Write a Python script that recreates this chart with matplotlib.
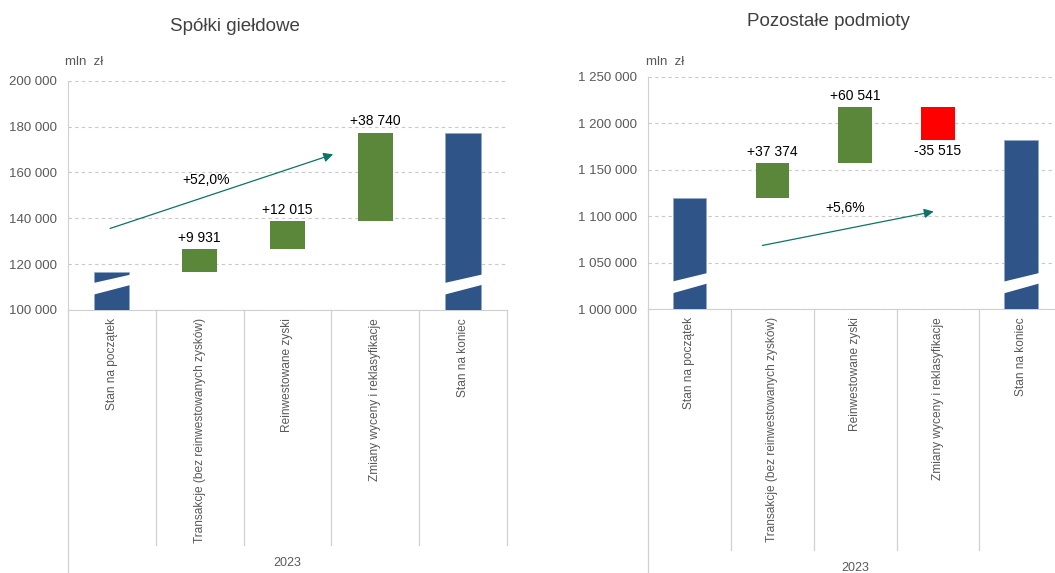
import matplotlib.pyplot as plt
import matplotlib.transforms as mtransforms
from matplotlib.patches import Polygon
from matplotlib.ticker import FuncFormatter, MultipleLocator

plt.rcParams['font.family'] = ['Liberation Sans', 'DejaVu Sans']

categories = ['Stan na początek', 'Transakcje (bez reinwestowanych zysków)',
              'Reinwestowane zyski', 'Zmiany wyceny i reklasyfikacje', 'Stan na koniec']
year = '2023'

gield_start = 116700
gield_changes = [9931, 12015, 38740]
gield_pct = '+52,0%'

poz_start = 1120000
poz_changes = [37374, 60541, -35515]
poz_pct = '+5,6%'

BLUE = '#2F5588'
GREEN = '#5B873A'
RED = '#FF0000'
TEAL = '#0B7468'
GRAY = '#595959'
LINE = '#D0D0D0'


def fmt(v, pos=None):
    return f'{int(v):,}'.replace(',', ' ')


def waterfall(ax, start, changes, pct, ylim, step, arrow_from, arrow_to, pct_xy, sep_len, outer_len, year_y):
    w = 0.4
    x = list(range(len(categories)))
    cum = [start]
    for c in changes:
        cum.append(cum[-1] + c)
    end = cum[-1]

    ax.bar(x[0], start, width=w, color=BLUE, edgecolor='#8FA8C8', linewidth=0.5, zorder=3)
    ax.bar(x[-1], end, width=w, color=BLUE, edgecolor='#8FA8C8', linewidth=0.5, zorder=3)
    for i, c in enumerate(changes):
        col = GREEN if c > 0 else RED
        ax.bar(x[i + 1], c, bottom=cum[i], width=w, color=col, zorder=3)
        lab = f'{c:+,}'.replace(',', ' ')
        if c > 0:
            ax.annotate(lab, (x[i + 1], cum[i + 1]), xytext=(0, 3), textcoords='offset points',
                        ha='center', va='bottom', fontsize=10)
        else:
            ax.annotate(lab, (x[i + 1], cum[i + 1]), xytext=(0, -3), textcoords='offset points',
                        ha='center', va='top', fontsize=10)

    # break marks on the total bars
    tr = mtransforms.blended_transform_factory(ax.transData, ax.transAxes)
    for xi in (x[0], x[-1]):
        poly = Polygon([(xi - w / 2 - 0.02, 0.066), (xi + w / 2 + 0.02, 0.11),
                        (xi + w / 2 + 0.02, 0.155), (xi - w / 2 - 0.02, 0.117)],
                       closed=True, transform=tr, facecolor='white', edgecolor='none', zorder=4)
        ax.add_patch(poly)

    ax.annotate('', xy=arrow_to, xytext=arrow_from,
                arrowprops=dict(arrowstyle='-|>', color=TEAL, lw=0.9, mutation_scale=14), zorder=5)
    ax.text(pct_xy[0], pct_xy[1], pct, ha='center', va='center', fontsize=10)

    ax.set_xlim(-0.5, len(categories) - 0.5)
    ax.set_ylim(*ylim)
    ax.yaxis.set_major_locator(MultipleLocator(step))
    ax.yaxis.set_major_formatter(FuncFormatter(fmt))
    ax.grid(axis='y', color='#C8C8C8', linestyle=(0, (3, 3)), linewidth=0.8, zorder=0)
    ax.set_axisbelow(True)
    for s in ('top', 'right'):
        ax.spines[s].set_visible(False)
    for s in ('left', 'bottom'):
        ax.spines[s].set_color(LINE)
    ax.tick_params(axis='y', length=0, labelsize=9.5, labelcolor=GRAY, pad=8)
    ax.set_xticks(x)
    ax.set_xticklabels(categories, rotation=90, va='top', fontsize=8.6, color=GRAY)
    ax.tick_params(axis='x', length=0, pad=6)

    n = len(categories)
    for i in range(n + 1):
        ln = outer_len if i == 0 else sep_len
        ax.plot([i / n, i / n], [0, -ln], transform=ax.transAxes, color=LINE,
                linewidth=0.9, clip_on=False)
    ax.text(0.5, year_y, year, transform=ax.transAxes, ha='center', va='center',
            fontsize=9, color=GRAY)


fig = plt.figure(figsize=(10.55, 5.73), dpi=100)
ax1 = fig.add_axes([0.0645, 0.459, 0.416, 0.400])
ax2 = fig.add_axes([0.614, 0.4607, 0.393, 0.405])

waterfall(ax1, gield_start, gield_changes, gield_pct, (100000, 200000), 20000,
          (-0.05, 135200), (2.55, 168300), (1.07, 156500), 1.026, 1.16, -1.105)
waterfall(ax2, poz_start, poz_changes, poz_pct, (1000000, 1250000), 50000,
          (0.85, 1067900), (2.98, 1105600), (1.88, 1108800), 1.04, 1.15, -1.116)

fig.text(0.223, 0.953, 'Spółki giełdowe', ha='center', va='center', fontsize=13.5, color='#404040')
fig.text(0.785, 0.962, 'Pozostałe podmioty', ha='center', va='center', fontsize=13.5, color='#404040')
fig.text(0.062, 0.892, 'mln  zł', ha='left', va='center', fontsize=9.5, color=GRAY)
fig.text(0.612, 0.892, 'mln  zł', ha='left', va='center', fontsize=9.5, color=GRAY)

fig.savefig('out.png', dpi=100)
